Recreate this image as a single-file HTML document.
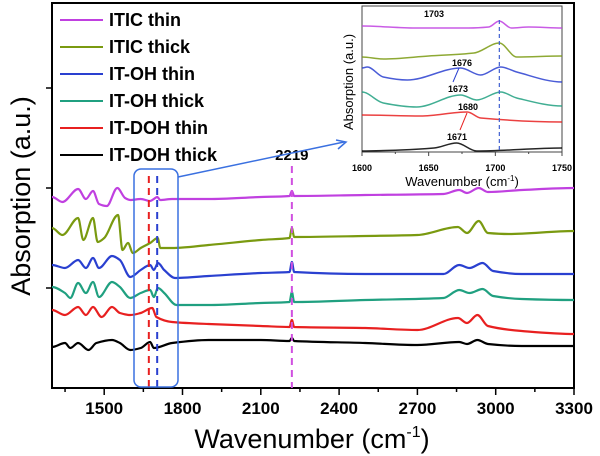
<!DOCTYPE html>
<html><head><meta charset="utf-8"><style>
html,body{margin:0;padding:0;background:#fff;}
svg{display:block;font-family:"Liberation Sans",Arial,sans-serif;}
</style></head><body>
<svg id="chart" width="600" height="456" viewBox="0 0 600 456"></svg>
<script>
// ---- main chart data ----
const seriesNames = ["ITIC thin","ITIC thick","IT-OH thin","IT-OH thick","IT-DOH thin","IT-DOH thick"];
const seriesColors = ["#c040e0","#7a9a10","#2a40d0","#20a080","#e82020","#000000"];
const xTicks = [1500,1800,2100,2400,2700,3000,3300];
const yTicks = [100,200,300];
const pinkWn  = [1300,1340,1400,1430,1457,1480,1510,1550,1580,1600,1640,1676,1690,1703,1715,1760,1900,2100,2210,2219,2228,2500,2800,2860,2890,2935,2970,3100,3300];
const pinkAb  = [191,186,199,189,197,184,182,200,190,188,189,187,189,191,188,189,189,191,192,197,192,193,194,198,195,200,196,198,200];
const oliveWn = [1300,1340,1400,1420,1457,1475,1500,1553,1570,1591,1610,1640,1676,1705,1715,1760,1900,2100,2210,2219,2228,2500,2700,2855,2890,2935,2970,3050,3300];
const oliveAb = [160,153,170,148,170,146,150,173,138,145,135,140,145,150,140,140,143,148,150,160,151,152,153,161,155,167,155,154,157];
const blueWn  = [1300,1350,1400,1430,1457,1480,1530,1560,1600,1640,1676,1690,1706,1730,1772,1900,2100,2210,2219,2228,2500,2800,2860,2900,2950,2990,3100,3300];
const blueAb  = [123,120,128,120,130,120,132,128,111,118,123,118,125,118,110,112,115,116,126,116,114,114,123,120,125,117,114,114];
const tealWn  = [1300,1350,1370,1400,1430,1457,1480,1530,1560,1600,1640,1676,1690,1706,1730,1777,1900,2100,2210,2219,2228,2500,2800,2860,2900,2950,2990,3100,3300];
const tealAb  = [101,95,90,105,95,106,91,106,101,90,95,98,91,100,95,83,83,85,86,96,86,88,90,98,95,99,92,89,88];
const redWn   = [1300,1350,1400,1430,1457,1490,1530,1560,1600,1640,1684,1700,1760,1900,2100,2210,2219,2228,2500,2700,2855,2890,2930,2970,3100,3300];
const redAb   = [78,73,81,73,81,71,81,75,73,75,80,71,66,64,62,61,68,61,60,58,70,65,73,62,57,54];
const blackWn = [1300,1350,1370,1400,1440,1470,1530,1560,1600,1640,1676,1690,1760,1900,2100,2210,2219,2228,2500,2700,2860,2890,2930,2970,3100,3300];
const blackAb = [41,45,40,45,38,45,48,45,38,40,46,40,45,48,48,47,50,47,45,43,46,44,48,44,42,42];
const mainWn = [pinkWn,oliveWn,blueWn,tealWn,redWn,blackWn];
const mainAb = [pinkAb,oliveAb,blueAb,tealAb,redAb,blackAb];
const markLines = [1671,1703,2219];
// ---- inset data ----
const insetXTicks = [1600,1650,1700,1750];
const insetPinkWn  = [1600,1640,1680,1695,1703,1712,1725,1750];
const insetPinkAb  = [126,124,124,125,131,124,125,124];
const insetOliveWn = [1600,1616,1650,1684,1703,1716,1750];
const insetOliveAb = [95,93,96,99,109,95,96];
const insetBlueWn  = [1600,1604,1616,1634,1674,1689,1704,1716,1750];
const insetBlueAb  = [84,85,75,72,84,77,85,80,70];
const insetTealWn  = [1600,1616,1641,1674,1686,1704,1716,1750];
const insetTealAb  = [60,49,45,57,52,60,54,46];
const insetRedWn   = [1600,1644,1679,1689,1750];
const insetRedAb   = [37,36,40,34,30];
const insetBlackWn = [1600,1629,1654,1671,1686,1750];
const insetBlackAb = [1,2,4,9,1,4];
const insetWn = [insetPinkWn,insetOliveWn,insetBlueWn,insetTealWn,insetRedWn,insetBlackWn];
const insetAb = [insetPinkAb,insetOliveAb,insetBlueAb,insetTealAb,insetRedAb,insetBlackAb];

const NS="http://www.w3.org/2000/svg";
const svg=document.getElementById('chart');
function mk(tag,attrs,parent){const e=document.createElementNS(NS,tag);for(const k in attrs)e.setAttribute(k,attrs[k]);(parent||svg).appendChild(e);return e;}
const L=52,R=574,T=3,B=388;
const xS=v=>L+(v-1300)/(3300-1300)*(R-L);
const yS=v=>B-v;
const iL=362,iR=562,iT=6,iB=152;
const ixS=v=>iL+(v-1600)/150*(iR-iL);
const iyS=v=>iB-v;

let e;
e=mk('rect',{x:L,y:T,width:R-L,height:B-T,fill:'none',stroke:'#000','stroke-width':2});


for(let v=1350;v<=3300;v+=150){
  const major=(v%300===0);
  e=mk('line',{x1:xS(v),x2:xS(v),y1:B,y2:B+(major?7:4),stroke:'#000','stroke-width':1.5});
  
}
xTicks.forEach(v=>{
  e=mk('text',{x:xS(v),y:414,'text-anchor':'middle','font-size':17,'font-weight':'bold'});e.textContent=v;
  
});
yTicks.forEach(v=>{
  e=mk('line',{x1:L-6,x2:L,y1:yS(v),y2:yS(v),stroke:'#000','stroke-width':1.5});
  
});
e=mk('text',{x:312,y:448,'text-anchor':'middle','font-size':27});
e.innerHTML='Wavenumber (cm<tspan dy="-11" font-size="16">-1</tspan><tspan dy="11">)</tspan>';

e=mk('text',{x:0,y:0,'text-anchor':'middle','font-size':27,transform:'translate(30,196) rotate(-90)'});
e.textContent='Absorption (a.u.)';


// monotone-ish cubic Hermite smoothing (no loops)
function pathD(xs,ys,fx,fy){
  const p=xs.map((x,i)=>[fx(x),fy(ys[i])]);
  const n=p.length, m=[];
  for(let i=0;i<n;i++){
    if(i===0||i===n-1){m.push(0);continue;}
    const d0=(p[i][1]-p[i-1][1])/(p[i][0]-p[i-1][0]);
    const d1=(p[i+1][1]-p[i][1])/(p[i+1][0]-p[i][0]);
    if(d0*d1<=0){m.push(0);}else{m.push(2/(1/d0+1/d1));}
  }
  let d='M'+p[0][0].toFixed(1)+','+p[0][1].toFixed(1);
  for(let i=0;i<n-1;i++){
    const dx=(p[i+1][0]-p[i][0])/3;
    d+=' C'+(p[i][0]+dx).toFixed(1)+','+(p[i][1]+m[i]*dx).toFixed(1)+' '+(p[i+1][0]-dx).toFixed(1)+','+(p[i+1][1]-m[i+1]*dx).toFixed(1)+' '+p[i+1][0].toFixed(1)+','+p[i+1][1].toFixed(1);
  }
  return d;
}
mainWn.forEach((xs,i)=>{
  e=mk('path',{d:pathD(xs,mainAb[i],xS,yS),fill:'none',stroke:seriesColors[i],'stroke-width':2.2,'stroke-linejoin':'round'});
  
});
const markColors=['#e82020','#2a40d0','#d050e0'];
markLines.forEach((v,i)=>{
  e=mk('line',{x1:xS(v),x2:xS(v),y1:i<2?176:166,y2:B,stroke:markColors[i],'stroke-width':2,'stroke-dasharray':'7,5'});
  
});
e=mk('text',{x:xS(2219),y:160,'text-anchor':'middle','font-size':15,'font-weight':'bold'});e.textContent='2219';

e=mk('rect',{x:134,y:169,width:44,height:218,rx:7,fill:'none',stroke:'#3a70e0','stroke-width':1.5});

e=mk('line',{x1:178,y1:177,x2:344,y2:142,stroke:'#3a70e0','stroke-width':1.5});

e=mk('path',{d:'M336,140 L346,142 L338,149',fill:'none',stroke:'#3a70e0','stroke-width':1.5});


seriesNames.forEach((n,i)=>{
  const y=20+i*27;
  e=mk('line',{x1:60,x2:103,y1:y,y2:y,stroke:seriesColors[i],'stroke-width':2});
  
  e=mk('text',{x:109,y:y+6,'font-size':18,'font-weight':'bold'});e.textContent=n;
  
});

e=mk('rect',{x:iL,y:iT,width:iR-iL,height:iB-iT,fill:'#fff',stroke:'#444','stroke-width':1});

for(let v=1600;v<=1750;v+=25){
  e=mk('line',{x1:ixS(v),x2:ixS(v),y1:iB,y2:iB+(v%50===0?4:2),stroke:'#444','stroke-width':1});
  
}
insetXTicks.forEach(v=>{
  e=mk('text',{x:ixS(v),y:171,'text-anchor':'middle','font-size':9,'font-weight':'bold'});e.textContent=v;
  
});
e=mk('text',{x:462,y:186,'text-anchor':'middle','font-size':13});
e.innerHTML='Wavenumber (cm<tspan dy="-5" font-size="8">-1</tspan><tspan dy="5">)</tspan>';

e=mk('text',{x:0,y:0,'text-anchor':'middle','font-size':13,transform:'translate(353,82) rotate(-90)'});
e.textContent='Absorption (a.u.)';

insetWn.forEach((xs,i)=>{
  e=mk('path',{d:pathD(xs,insetAb[i],ixS,iyS),fill:'none',stroke:seriesColors[i],'stroke-width':1.5,'stroke-linejoin':'round','opacity':0.85});
  
});
e=mk('line',{x1:ixS(1703),x2:ixS(1703),y1:20,y2:iB,stroke:'#4060d0','stroke-width':1.2,'stroke-dasharray':'4,3'});

const ann=[[1703,434,17],[1676,462,66],[1673,458,92],[1680,468,110],[1671,457,140]];
ann.forEach(a=>{
  e=mk('text',{x:a[1],y:a[2],'text-anchor':'middle','font-size':9,'font-weight':'bold'});e.textContent=a[0];
  
});
e=mk('line',{x1:459,y1:68,x2:453,y2:82,stroke:'#2a40d0','stroke-width':1});

e=mk('line',{x1:467,y1:113,x2:460,y2:130,stroke:'#e82020','stroke-width':1});

</script>
</body></html>
